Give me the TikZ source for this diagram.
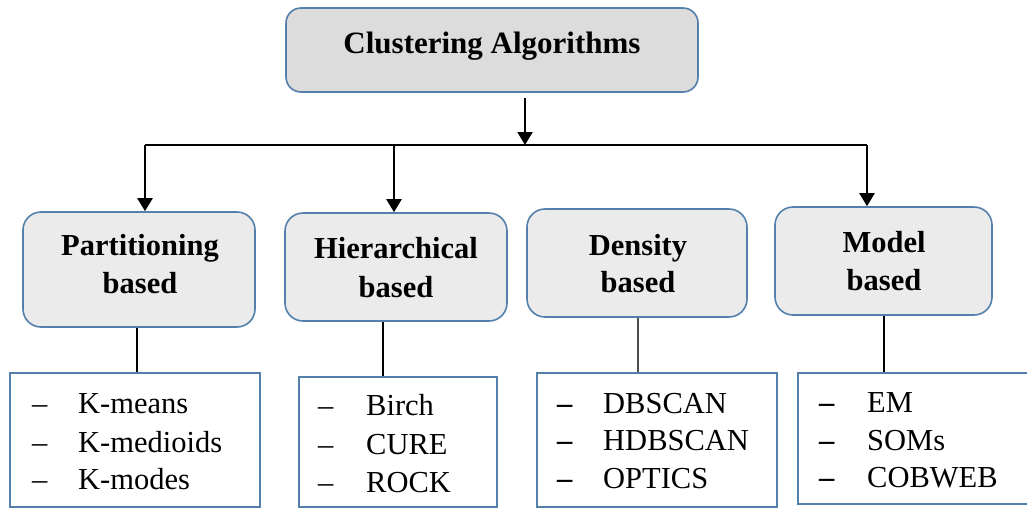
\documentclass[tikz,border=0pt]{standalone}
\usepackage{fontspec}
\setmainfont{Liberation Serif}
\usetikzlibrary{arrows.meta}
\definecolor{edgeblue}{RGB}{84,128,172}
\definecolor{rootfill}{RGB}{220,220,220}
\definecolor{catfill}{RGB}{235,235,235}
\tikzset{
  rootbox/.style={draw=edgeblue, line width=1.6pt, fill=rootfill, rounded corners=15pt,
    minimum width=412pt, minimum height=84pt, inner sep=0pt},
  catbox/.style={draw=edgeblue, line width=1.6pt, fill=catfill, rounded corners=18pt, inner sep=0pt},
  listbox/.style={draw=edgeblue, line width=1.4pt, fill=white, inner sep=0pt},
  headtext/.style={anchor=base, inner sep=0pt, font=\fontsize{31}{38}\selectfont\bfseries},
  cattext/.style={anchor=base, inner sep=0pt, font=\fontsize{30.5}{38}\selectfont\bfseries},
  itemtext/.style={anchor=base west, inner sep=0pt, font=\fontsize{30.5}{38}\selectfont},
  dashtext/.style={anchor=base west, inner sep=0pt, font=\fontsize{30.5}{38}\selectfont},
  dashbold/.style={dashtext, font=\fontsize{30.5}{38}\selectfont\bfseries},
  arrowlink/.style={draw=black, line width=2.2pt, -{Triangle[width=15pt,length=13pt]}},
  link/.style={draw=black, line width=2pt},
  thinlink/.style={draw=black!70, line width=1.8pt}
}
\begin{document}
\begin{tikzpicture}[x=1pt,y=-1pt]
\useasboundingbox (0,0) rectangle (1027,509);

% root
\node[rootbox] (root) at (492,50) {};
\node[headtext] (rootT) at (492,53) {Clustering Algorithms};

% categories
\node[catbox, minimum width=232pt, minimum height=115pt] (part) at (139,269.5) {};
\node[catbox, minimum width=222pt, minimum height=108pt] (hier) at (396,267) {};
\node[catbox, minimum width=220pt, minimum height=108pt] (dens) at (637,263) {};
\node[catbox, minimum width=217pt, minimum height=108pt] (modl) at (883.5,261) {};

\node[cattext] (partA) at (140,255) {Partitioning};
\node[cattext] (partB) at (140,293) {based};
\node[cattext] (hierA) at (396,258) {Hierarchical};
\node[cattext] (hierB) at (396,297) {based};
\node[cattext] (densA) at (638,255) {Density};
\node[cattext] (densB) at (638,292) {based};
\node[cattext] (modlA) at (884,252) {Model};
\node[cattext] (modlB) at (884,290) {based};

% lists
\node[listbox, minimum width=250pt, minimum height=134pt] (plist) at (135,440) {};
\node[listbox, minimum width=198pt, minimum height=130pt] (hlist) at (398,442) {};
\node[listbox, minimum width=240pt, minimum height=134pt] (dlist) at (657,440) {};
\node[listbox, minimum width=230pt, minimum height=131pt] (mlist) at (913,438.5) {};

\node[dashtext] (pd1) at (32,413) {–};
\node[dashtext] (pd2) at (32,452) {–};
\node[dashtext] (pd3) at (32,489) {–};
\node[itemtext] (pi1) at (78,413) {K-means};
\node[itemtext] (pi2) at (78,452) {K-medioids};
\node[itemtext] (pi3) at (78,489) {K-modes};

\node[dashtext] (hd1) at (318,415) {–};
\node[dashtext] (hd2) at (318,454) {–};
\node[dashtext] (hd3) at (318,492) {–};
\node[itemtext] (hi1) at (366,415) {Birch};
\node[itemtext] (hi2) at (366,454) {CURE};
\node[itemtext] (hi3) at (366,492) {ROCK};

\node[dashbold] (dd1) at (557,413) {–};
\node[dashbold] (dd2) at (557,450) {–};
\node[dashbold] (dd3) at (557,488) {–};
\node[itemtext] (di1) at (603,413) {DBSCAN};
\node[itemtext] (di2) at (603,450) {HDBSCAN};
\node[itemtext] (di3) at (603,488) {OPTICS};

\node[dashbold] (md1) at (819,412) {–};
\node[dashbold] (md2) at (819,450) {–};
\node[dashbold] (md3) at (819,487) {–};
\node[itemtext] (mi1) at (867,412) {EM};
\node[itemtext] (mi2) at (867,450) {SOMs};
\node[itemtext] (mi3) at (867,487) {COBWEB};

% tree connectors
\coordinate (tstart) at (525,98);
\coordinate (tsplit) at (525,145);
\coordinate (hl) at (145,145);
\coordinate (hm) at (394,145);
\coordinate (hr) at (867,145);

\draw[arrowlink] (tstart) -- (tsplit);
\draw[link] (hl) -- (hr);
\draw[arrowlink] (hl) -- (hl |- part.north);
\draw[arrowlink] (hm) -- (hm |- hier.north);
\draw[arrowlink] (hr) -- (hr |- modl.north);

% category to list
\draw[link] ([xshift=-2pt]part.south) -- ([xshift=-2pt]part.south |- plist.north);
\draw[link] ([xshift=-13pt]hier.south) -- ([xshift=-13pt]hier.south |- hlist.north);
\draw[thinlink] ([xshift=1pt]dens.south) -- ([xshift=1pt]dens.south |- dlist.north);
\draw[link] ([xshift=0.5pt]modl.south) -- ([xshift=0.5pt]modl.south |- mlist.north);
\end{tikzpicture}
\end{document}
